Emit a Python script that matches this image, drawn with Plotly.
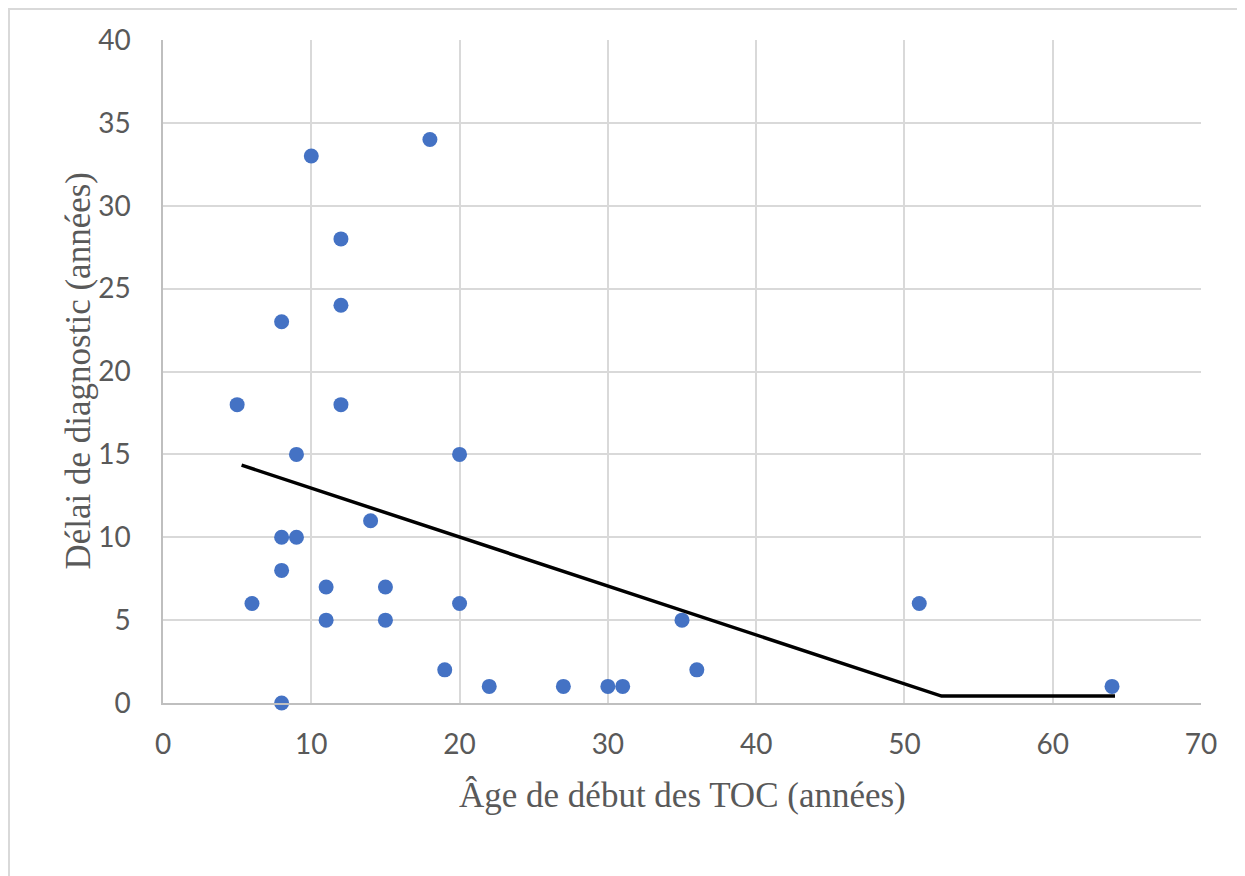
import plotly.graph_objects as go

# Data
age_debut = [5, 6, 8, 8, 8, 8, 9, 9, 10, 11, 11, 12, 12, 12, 14, 15, 15, 18, 19, 20, 20, 22, 27, 30, 31, 35, 36, 51, 64]
delai_diag = [18, 6, 23, 10, 8, 0, 15, 10, 33, 7, 5, 28, 24, 18, 11, 7, 5, 34, 2, 15, 6, 1, 1, 1, 1, 5, 2, 6, 1]

trend_x = [5.3, 52.5, 64.2]
trend_y = [14.35, 0.42, 0.42]

x_ticks = [0, 10, 20, 30, 40, 50, 60, 70]
y_ticks = [0, 5, 10, 15, 20, 25, 30, 35, 40]

x_title = "Âge de début des TOC (années)"
y_title = "Délai de diagnostic (années)"

W, H = 1245, 876
L, R, T, B = 155, 52, 32, 181
PW, PH = W - L - R, H - T - B

fig = go.Figure()
fig.add_trace(go.Scatter(
    x=age_debut, y=delai_diag, mode="markers",
    marker=dict(color="#4472C4", size=15, line=dict(width=0)),
    showlegend=False, cliponaxis=False,
))
fig.add_trace(go.Scatter(
    x=trend_x, y=trend_y, mode="lines",
    line=dict(color="black", width=3.5),
    showlegend=False,
))

tick_font = dict(family="Lato, 'Open Sans', sans-serif", size=28, color="#595959")
title_font = dict(family="'Liberation Serif', 'Times New Roman', serif", size=35, color="#595959")

fig.update_layout(
    width=W, height=H,
    margin=dict(l=L, r=R, t=T, b=B),
    paper_bgcolor="white", plot_bgcolor="white",
    xaxis=dict(
        range=[0, 70], tickvals=x_ticks, ticktext=[str(v) for v in x_ticks],
        showgrid=True, gridcolor="#d9d9d9", gridwidth=1.5,
        showline=True, linecolor="#bfbfbf", linewidth=1.5,
        zeroline=False, ticks="outside", ticklen=16, tickcolor="rgba(0,0,0,0)",
        tickfont=tick_font, automargin=False,
    ),
    yaxis=dict(
        range=[0, 40], tickvals=y_ticks, ticktext=[str(v) for v in y_ticks],
        showgrid=True, gridcolor="#d9d9d9", gridwidth=1.5,
        showline=True, linecolor="#bfbfbf", linewidth=1.5,
        zeroline=False, ticks="outside", ticklen=25, tickcolor="rgba(0,0,0,0)",
        tickfont=tick_font, automargin=False,
    ),
    annotations=[
        dict(text=x_title, xref="paper", yref="paper", x=0.5, y=-92 / PH,
             xanchor="center", yanchor="middle", showarrow=False, font=title_font),
        dict(text=y_title, xref="paper", yref="paper", x=-85 / PW, y=0.5,
             xanchor="center", yanchor="middle", showarrow=False, font=title_font,
             textangle=-90),
    ],
    shapes=[dict(type="rect", xref="paper", yref="paper",
                 x0=-(L - 1) / PW, x1=1 + (R - 1) / PW,
                 y0=-(B - 1) / PH, y1=1 + (T - 1) / PH,
                 line=dict(color="#d9d9d9", width=2), layer="below")],
)

fig.write_html("out.html")
